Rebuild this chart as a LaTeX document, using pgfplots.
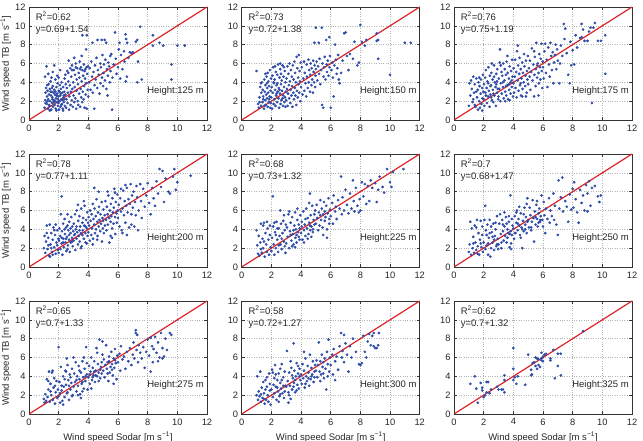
\documentclass[border=0pt]{standalone}
\usepackage{fontspec}
\setmainfont{Liberation Sans}
\usepackage{pgfplots}
\pgfplotsset{compat=1.18}
\definecolor{dotblue}{RGB}{46,76,168}
\definecolor{fitred}{RGB}{220,36,40}
\pgfplotsset{
  panel/.style={
    scale only axis, width=178pt, height=113pt, anchor=south west,
    xmin=0, xmax=12, ymin=0, ymax=12,
    xtick={0,2,...,12}, ytick={0,2,...,12},
    grid=major, major grid style={gray!60, dotted, line width=0.5pt},
    tick align=inside, major tick length=3pt,
    axis line style={black!80, line width=0.6pt},
    every tick/.style={black!80, line width=0.5pt},
    tick label style={font=\fontsize{9.3}{10}\selectfont, black!85},
    /pgf/number format/assume math mode=true,
    label style={font=\fontsize{9.5}{11}\selectfont, black!85},
    xticklabel style={yshift=-1pt},
    ylabel style={at={(axis description cs:-0.082,0.5)}, anchor=south},
  },
  pts/.style={only marks, mark=*, mark size=1.15pt, dotblue, mark options={draw=dotblue, fill=dotblue}},
}
\newcommand\tbl{Wind speed TB [m s\textsuperscript{−1}]}
\newcommand\sdl{Wind speed Sodar [m s\textsuperscript{−1}]}
% fit line y=x plus the three annotations of each panel
\newcommand\annot[3]{%
  \addplot[fitred, line width=1.2pt] coordinates {(0,0) (12,12)};
  \node[anchor=west, inner sep=0pt, font=\fontsize{9.5}{11}\selectfont, black!85] at (axis cs:0.45,11.05) {R\textsuperscript{2}=#1};
  \node[anchor=west, inner sep=0pt, font=\fontsize{9.5}{11}\selectfont, black!85] at (axis cs:0.45,9.5) {y=#2};
  \node[anchor=east, inner sep=0pt, font=\fontsize{9.5}{11}\selectfont, black!85] at (axis cs:11.8,3.1) {Height:#3 m};
}
\begin{document}
\begin{tikzpicture}
\useasboundingbox (0pt,0pt) rectangle (643pt,441pt);

% ---------- 125 m ----------
\begin{axis}[panel, at={(29pt,321pt)}, ylabel={\tbl}]
\addplot[pts] coordinates {
(1.05,1.3)(1.1,2.1)(1.12,2.9)(1.15,3.4)(1.2,1.7)(1.22,2.5)(1.25,3.1)(1.28,1.2)(1.3,2.2)(1.32,3.8)(1.35,2.7)(1.38,1.5)(1.4,3.3)(1.42,2.0)(1.45,4.1)(1.48,2.6)(1.5,1.1)(1.52,3.0)(1.55,1.8)(1.57,2.4)(1.6,3.6)(1.62,1.4)(1.65,2.9)(1.68,2.1)(1.7,3.2)(1.72,1.6)(1.75,2.7)(1.78,4.3)(1.8,1.2)(1.82,2.3)(1.85,3.5)(1.88,1.9)(1.9,2.8)(1.92,3.9)(1.95,1.5)(1.98,2.5)(2.0,3.1)(2.02,1.1)(2.05,2.0)(2.08,3.7)(2.1,2.6)(2.12,1.4)(2.15,3.3)(2.18,2.2)(2.2,4.0)(2.22,1.7)(2.25,2.9)(2.28,1.2)(2.3,3.5)(2.32,2.4)(2.35,1.9)(2.38,3.0)(2.4,4.4)(2.42,1.5)(2.45,2.7)(2.48,3.8)(1.08,4.6)(1.18,5.7)(1.3,4.9)(1.6,5.1)(1.7,5.8)(1.9,4.7)(2.1,5.3)(1.4,1.0)(1.85,1.0)(2.3,1.0)(1.55,3.4)(1.75,2.0)(1.95,2.2)(2.15,2.8)(2.35,2.6)(1.25,2.0)(1.45,3.0)(1.65,1.9)(1.85,2.6)(2.05,3.0)(2.25,2.1)(1.35,1.6)(1.58,2.2)(1.78,3.0)(1.98,1.8)(2.18,1.6)(2.38,2.2)(1.12,1.8)(1.52,4.5)(2.45,4.8)(2.0,4.5)(1.22,3.7)
(2.5,1.3)(2.52,2.2)(2.55,3.4)(2.58,5.2)(2.6,1.8)(2.62,2.9)(2.65,4.1)(2.68,6.3)(2.7,1.1)(2.72,2.5)(2.75,3.7)(2.78,5.5)(2.8,1.6)(2.82,3.0)(2.85,4.6)(2.88,2.1)(2.9,5.8)(2.92,3.3)(2.95,1.4)(2.98,4.0)(3.0,2.6)(3.02,5.3)(3.05,1.9)(3.08,3.5)(3.1,4.8)(3.12,2.3)(3.15,6.0)(3.18,1.2)(3.2,3.1)(3.22,4.3)(3.25,5.5)(3.28,2.0)(3.3,3.8)(3.32,1.6)(3.35,5.0)(3.38,2.8)(3.4,4.5)(3.42,6.2)(3.45,1.4)(3.48,3.3)(3.5,5.6)(3.52,2.4)(3.55,4.1)(3.58,1.9)(3.6,5.3)(3.62,3.0)(3.65,4.7)(3.68,2.2)(3.7,5.9)(3.72,3.6)(3.75,1.3)(3.78,4.4)(3.8,5.4)(3.82,2.7)(3.85,3.9)(3.88,5.6)(3.9,1.2)(3.92,4.9)(3.95,3.2)(3.98,5.7)(2.65,5.0)(2.9,5.3)(3.15,5.6)(3.45,5.4)(3.75,5.2)(3.05,6.6)(3.55,6.8)(3.85,7.5)(3.6,9.0)(3.9,9.0)
(4.0,2.5)(4.05,4.0)(4.1,5.5)(4.15,3.2)(4.2,6.2)(4.25,4.6)(4.28,8.2)(4.3,2.9)(4.35,5.1)(4.4,1.2)(4.42,3.7)(4.45,5.8)(4.5,4.3)(4.55,6.6)(4.6,3.4)(4.62,8.5)(4.65,5.3)(4.7,4.8)(4.75,2.8)(4.8,6.0)(4.82,3.9)(4.85,5.6)(4.9,8.5)(4.92,4.5)(4.95,6.9)(5.0,3.6)(5.02,5.0)(5.05,5.9)(5.1,8.5)(5.12,4.2)(5.15,6.4)(5.2,8.2)(5.22,3.3)(5.25,5.4)(5.3,2.6)(5.32,4.7)(5.35,6.1)(5.4,5.7)(5.45,4.0)(5.48,6.8)
(5.5,5.2)(5.55,7.0)(5.6,1.1)(5.62,4.5)(5.7,5.9)(5.8,9.3)(5.85,6.5)(5.9,4.9)(6.0,5.6)(6.05,7.5)(6.1,8.2)(6.15,4.4)(6.2,6.9)(6.3,5.4)(6.4,7.3)(6.45,6.2)(6.5,9.1)(6.52,4.1)(6.55,8.6)(6.6,4.6)(6.62,8.2)(6.7,6.6)(6.8,7.2)(6.9,7.1)(7.0,7.2)
(7.2,8.3)(7.3,8.5)(7.35,6.2)(7.3,4.0)(7.5,9.9)(7.6,4.3)(8.35,9.0)(8.35,7.9)(8.8,8.2)(9.05,7.9)(9.6,5.9)(9.6,4.3)(10.0,7.9)(10.5,7.9)
};
\annot{0.62}{0.69+1.54}{125}
\end{axis}

% ---------- 150 m ----------
\begin{axis}[panel, at={(241.7pt,321pt)}]
\addplot[pts] coordinates {
(1.0,5.2)(1.1,1.7)(1.15,1.3)(1.2,2.4)(1.25,3.5)(1.3,1.5)(1.32,2.9)(1.35,4.0)(1.4,1.9)(1.42,3.2)(1.45,2.5)(1.5,1.2)(1.52,4.3)(1.55,3.0)(1.58,2.1)(1.6,3.7)(1.62,1.6)(1.65,2.7)(1.68,4.6)(1.7,2.3)(1.72,3.4)(1.75,1.4)(1.78,2.9)(1.8,4.1)(1.82,1.9)(1.85,3.6)(1.88,2.5)(1.9,5.3)(1.92,1.3)(1.95,3.1)(1.98,4.4)(1.3,3.9)(1.6,4.9)(1.75,5.0)(1.45,2.2)(1.85,2.2)(1.95,1.8)(1.55,1.5)(1.2,1.9)(1.7,3.9)
(2.0,2.4)(2.02,3.5)(2.05,1.2)(2.08,4.7)(2.1,2.9)(2.12,5.6)(2.15,1.7)(2.18,3.9)(2.2,2.2)(2.22,4.3)(2.25,3.2)(2.28,1.5)(2.3,5.1)(2.32,2.6)(2.35,3.7)(2.38,1.9)(2.4,4.8)(2.42,3.0)(2.45,5.9)(2.48,2.3)(2.5,3.4)(2.52,1.3)(2.55,4.5)(2.58,2.8)(2.6,5.4)(2.62,1.7)(2.65,3.8)(2.68,2.1)(2.7,4.2)(2.72,3.1)(2.75,5.8)(2.78,1.5)(2.8,2.6)(2.82,4.6)(2.85,3.5)(2.88,1.9)(2.9,5.2)(2.92,2.4)(2.95,4.0)(2.98,3.0)(2.15,4.0)(2.35,2.8)(2.55,3.2)(2.75,2.3)(2.95,1.4)(2.4,3.9)(2.65,4.9)(2.85,5.6)(2.25,5.7)(2.6,6.0)
(3.0,2.1)(3.02,4.4)(3.05,3.3)(3.08,5.7)(3.1,1.5)(3.12,2.8)(3.15,4.9)(3.18,3.7)(3.2,2.3)(3.22,6.0)(3.25,4.1)(3.28,1.8)(3.3,3.2)(3.32,5.3)(3.35,2.6)(3.38,4.6)(3.4,3.6)(3.42,1.4)(3.45,5.8)(3.48,2.9)(3.5,4.3)(3.52,2.2)(3.55,6.2)(3.58,3.4)(3.6,5.0)(3.62,2.6)(3.65,4.0)(3.68,1.6)(3.7,6.7)(3.72,3.1)(3.75,5.5)(3.78,2.4)(3.8,4.5)(3.82,3.8)(3.85,6.9)(3.88,2.9)(3.9,5.2)(3.92,4.1)(3.95,2.0)(3.98,6.1)
(4.0,3.5)(4.05,5.6)(4.1,2.7)(4.15,4.4)(4.2,6.2)(4.22,3.1)(4.25,5.0)(4.3,3.9)(4.35,2.5)(4.38,5.9)(4.4,4.6)(4.45,3.4)(4.5,6.4)(4.52,4.0)(4.55,5.3)(4.6,3.0)(4.62,4.8)(4.65,6.0)(4.7,3.7)(4.72,5.5)(4.75,4.3)(4.8,2.9)(4.82,6.3)(4.85,5.1)(4.88,4.0)(4.9,8.2)(4.92,5.8)(4.95,3.5)(4.98,4.7)(5.0,9.8)
(5.0,5.4)(5.05,6.2)(5.1,4.2)(5.15,5.7)(5.2,8.2)(5.22,4.9)(5.25,6.5)(5.3,3.8)(5.35,5.3)(5.4,9.8)(5.42,1.6)(5.45,6.0)(5.5,1.3)(5.52,4.6)(5.55,5.6)(5.6,6.7)(5.65,4.3)(5.7,8.5)(5.72,5.9)(5.75,5.1)(5.8,6.3)(5.85,4.7)(5.9,8.8)(5.92,5.6)(5.95,6.8)(6.0,1.3)(6.05,5.3)(6.1,6.1)(6.15,4.5)(6.2,2.5)(6.25,5.8)(6.3,8.0)(6.35,6.4)(6.4,4.9)(6.45,5.5)(6.5,6.9)(6.55,4.3)(6.6,3.9)
(6.7,5.0)(6.8,6.3)(6.9,9.2)(7.0,9.3)(7.1,6.8)(7.2,5.3)(7.3,7.0)(7.5,6.5)(7.6,8.3)(7.8,5.8)(7.9,6.1)(8.0,10.1)(8.1,8.3)(8.3,7.9)(8.4,8.5)(9.1,9.2)(9.1,8.4)(9.2,8.5)(9.2,6.5)(10.0,4.8)(11.0,8.2)(11.4,8.2)
};
\annot{0.73}{0.72+1.38}{150}
\end{axis}

% ---------- 175 m ----------
\begin{axis}[panel, at={(454pt,321pt)}]
\addplot[pts] coordinates {
(1.0,1.5)(1.05,3.9)(1.1,2.6)(1.15,4.2)(1.2,3.3)(1.25,1.9)(1.3,4.6)(1.35,2.9)(1.4,3.8)(1.45,1.4)(1.5,4.4)(1.55,2.4)(1.6,3.2)(1.62,1.1)(1.65,4.0)(1.7,2.0)(1.72,3.6)(1.75,1.3)(1.8,2.8)(1.82,4.3)(1.85,1.7)(1.9,3.4)(1.92,2.3)(1.95,4.8)(1.98,3.0)(1.3,2.2)(1.5,3.0)(1.7,4.5)(1.9,1.0)(1.4,1.6)
(2.0,2.2)(2.02,3.8)(2.05,1.5)(2.1,4.5)(2.12,2.9)(2.15,5.3)(2.2,3.4)(2.22,1.8)(2.25,4.1)(2.3,2.5)(2.32,5.6)(2.35,3.1)(2.4,1.4)(2.42,4.7)(2.45,2.7)(2.5,3.7)(2.52,5.0)(2.55,2.1)(2.6,4.3)(2.62,3.2)(2.65,1.9)(2.7,5.8)(2.72,2.6)(2.75,4.0)(2.8,3.5)(2.82,1.5)(2.85,4.9)(2.9,2.9)(2.92,5.4)(2.95,3.3)(2.98,2.2)(2.3,3.9)(2.5,2.4)(2.7,4.6)(2.9,4.1)(2.15,2.6)(2.45,3.6)(2.65,2.8)(2.85,3.8)(2.55,6.0)
(3.0,2.5)(3.02,4.4)(3.05,3.3)(3.08,6.1)(3.1,7.5)(3.12,2.0)(3.15,3.9)(3.2,5.1)(3.22,2.8)(3.25,4.7)(3.3,3.5)(3.32,6.0)(3.35,2.3)(3.4,4.2)(3.42,5.4)(3.45,3.0)(3.5,4.8)(3.52,2.6)(3.55,6.2)(3.6,3.7)(3.62,5.0)(3.65,2.2)(3.7,4.4)(3.72,3.2)(3.75,5.7)(3.8,4.0)(3.82,2.8)(3.85,5.2)(3.9,3.5)(3.92,6.4)(3.95,4.6)(3.98,2.5)(3.3,4.0)(3.5,3.6)(3.7,3.8)(3.9,4.2)(3.15,5.8)(3.45,2.0)(3.75,2.1)(3.6,6.8)
(4.0,3.9)(4.02,5.5)(4.05,2.9)(4.1,4.6)(4.12,6.4)(4.15,3.4)(4.2,5.1)(4.22,2.4)(4.25,7.3)(4.3,4.2)(4.32,5.8)(4.35,3.1)(4.4,4.9)(4.42,6.6)(4.45,3.7)(4.5,5.4)(4.52,2.6)(4.55,4.4)(4.6,6.1)(4.62,3.3)(4.65,5.0)(4.7,4.0)(4.72,7.0)(4.75,5.7)(4.8,3.6)(4.82,4.7)(4.85,6.3)(4.9,2.9)(4.92,5.2)(4.95,4.3)(4.98,6.8)(4.3,7.9)(4.6,2.5)(4.85,2.5)(4.5,3.9)
(5.0,3.8)(5.05,5.5)(5.1,4.6)(5.12,6.3)(5.15,3.2)(5.2,5.1)(5.25,7.6)(5.3,4.2)(5.35,5.9)(5.4,2.5)(5.42,4.8)(5.45,6.7)(5.5,3.6)(5.52,5.4)(5.55,8.2)(5.6,4.5)(5.65,6.0)(5.7,5.0)(5.72,3.9)(5.75,7.0)(5.8,5.6)(5.82,4.3)(5.85,6.5)(5.9,8.1)(5.92,5.2)(5.95,3.4)(5.98,6.2)(5.4,7.3)(5.7,2.6)(5.6,5.8)
(6.0,5.6)(6.05,4.4)(6.1,7.3)(6.15,8.1)(6.2,5.0)(6.25,6.4)(6.3,3.5)(6.35,7.7)(6.4,5.9)(6.45,4.6)(6.5,8.2)(6.55,6.8)(6.6,5.3)(6.65,7.2)(6.7,3.9)(6.75,6.1)(6.8,6.9)(6.85,8.0)(6.9,5.4)(6.95,7.5)
(7.0,6.3)(7.1,3.9)(7.15,6.0)(7.2,7.9)(7.3,6.8)(7.4,10.2)(7.45,8.6)(7.5,9.7)(7.6,7.1)(7.7,4.8)(7.8,3.9)(7.85,8.3)(7.9,5.8)(8.0,7.4)(8.1,5.9)(8.2,9.0)(8.3,7.7)(8.5,8.7)(8.6,10.2)(8.6,8.8)(8.7,9.6)(8.8,8.4)(9.0,8.4)(9.1,9.4)(9.2,9.8)(9.3,1.8)(9.4,9.8)(9.5,10.3)(9.7,8.4)(9.9,8.4)(10.2,9.0)(10.2,4.9)
};
\annot{0.76}{0.75+1.19}{175}
\end{axis}

% ---------- 200 m ----------
\begin{axis}[panel, at={(29pt,174pt)}, ylabel={\tbl}]
\addplot[pts] coordinates {
(1.0,2.0)(1.05,3.3)(1.1,1.5)(1.15,2.7)(1.2,4.4)(1.25,1.9)(1.3,3.1)(1.35,1.2)(1.4,4.5)(1.42,1.1)(1.45,2.4)(1.5,3.6)(1.55,1.6)(1.6,2.9)(1.65,4.2)(1.7,2.1)(1.75,3.4)(1.8,1.4)(1.85,2.6)(1.9,3.9)(1.95,1.8)(1.98,3.0)(1.3,2.3)(1.5,2.0)(1.7,3.9)(1.9,2.3)(1.2,3.6)(1.6,1.3)(1.8,4.5)(2.2,7.5)
(2.0,1.5)(2.02,2.8)(2.05,4.1)(2.1,3.3)(2.12,1.9)(2.15,5.6)(2.2,2.5)(2.22,3.8)(2.25,1.3)(2.3,4.6)(2.32,3.0)(2.35,2.1)(2.4,5.1)(2.42,3.5)(2.45,2.6)(2.5,4.2)(2.52,1.7)(2.55,3.2)(2.6,5.6)(2.62,2.3)(2.65,3.9)(2.7,2.9)(2.72,4.8)(2.75,1.6)(2.8,3.6)(2.82,2.6)(2.85,5.3)(2.9,3.1)(2.92,4.3)(2.95,2.2)(2.98,3.8)(2.3,2.6)(2.5,3.0)(2.7,3.4)(2.9,2.7)(2.4,4.0)(2.6,4.4)(2.8,4.1)(2.2,3.1)(2.6,1.9)
(3.0,2.8)(3.02,4.6)(3.05,3.4)(3.1,5.6)(3.12,1.8)(3.15,4.0)(3.2,3.0)(3.22,6.0)(3.25,3.7)(3.3,2.4)(3.32,4.9)(3.35,3.3)(3.4,5.4)(3.42,2.7)(3.45,4.3)(3.5,3.6)(3.52,6.2)(3.55,2.2)(3.6,4.7)(3.62,3.9)(3.65,5.2)(3.7,3.0)(3.72,4.4)(3.75,6.5)(3.8,3.6)(3.82,2.6)(3.85,5.0)(3.9,4.1)(3.92,5.8)(3.95,3.3)(3.98,4.7)(3.2,4.3)(3.4,3.9)(3.6,3.4)(3.8,4.3)(3.3,6.6)(3.7,7.0)(3.5,2.0)(3.9,2.5)(3.1,3.5)
(4.0,3.7)(4.02,5.3)(4.05,4.4)(4.1,2.8)(4.12,6.0)(4.15,4.9)(4.2,3.4)(4.22,5.6)(4.25,4.1)(4.3,6.7)(4.32,3.0)(4.35,5.1)(4.4,4.5)(4.42,6.2)(4.45,3.6)(4.5,5.4)(4.52,4.0)(4.55,7.2)(4.6,4.8)(4.62,3.3)(4.65,5.8)(4.7,4.3)(4.72,6.4)(4.75,5.0)(4.8,3.8)(4.82,5.6)(4.85,4.6)(4.9,6.9)(4.92,2.7)(4.95,5.2)(4.98,4.1)(4.4,8.4)(4.7,8.0)(4.3,2.4)(4.6,2.9)
(5.0,4.9)(5.02,6.1)(5.05,3.6)(5.1,5.5)(5.12,4.4)(5.15,7.0)(5.2,5.0)(5.22,3.9)(5.25,6.4)(5.3,5.6)(5.32,4.5)(5.35,7.6)(5.4,5.2)(5.42,2.6)(5.45,6.0)(5.5,4.8)(5.52,6.7)(5.55,5.4)(5.6,4.1)(5.62,7.3)(5.65,5.8)(5.7,4.6)(5.72,6.3)(5.75,8.3)(5.8,5.3)(5.82,3.5)(5.85,6.9)(5.9,5.7)(5.92,4.7)(5.95,7.7)(5.98,6.0)(5.3,8.0)(5.6,3.1)(5.8,7.9)(5.5,3.3)
(6.0,5.2)(6.05,6.6)(6.1,4.3)(6.15,7.3)(6.2,5.9)(6.25,3.9)(6.3,6.2)(6.35,8.1)(6.4,5.5)(6.45,7.0)(6.5,4.7)(6.55,6.5)(6.6,8.4)(6.65,5.8)(6.7,7.2)(6.75,4.2)(6.8,6.7)(6.85,8.8)(6.9,5.6)(6.95,7.6)(6.3,3.6)(6.6,3.4)(6.9,4.5)(6.2,8.3)(6.5,8.7)
(7.0,6.3)(7.05,8.0)(7.1,4.3)(7.15,6.9)(7.2,5.5)(7.25,8.6)(7.3,7.4)(7.35,3.9)(7.4,6.0)(7.5,8.8)(7.55,7.0)(7.6,5.2)(7.7,8.3)(7.8,6.4)(7.9,7.6)(8.0,8.9)(8.1,6.8)(8.2,5.6)(8.3,8.4)(8.4,7.3)(8.5,6.5)(8.6,9.1)(8.7,7.8)(8.8,10.4)(8.9,8.5)(9.0,10.2)(9.1,6.9)(9.2,9.4)(9.4,8.0)(9.5,7.8)(9.7,9.6)(9.8,10.4)(9.9,8.2)(10.0,9.0)(10.9,9.7)
};
\annot{0.78}{0.77+1.11}{200}
\end{axis}

% ---------- 225 m ----------
\begin{axis}[panel, at={(241.7pt,174pt)}]
\addplot[pts] coordinates {
(1.0,3.9)(1.05,2.3)(1.1,1.4)(1.15,3.3)(1.2,1.2)(1.25,2.6)(1.3,4.6)(1.35,1.5)(1.4,3.0)(1.45,2.0)(1.5,4.7)(1.55,1.1)(1.6,3.6)(1.65,2.4)(1.7,1.6)(1.75,4.1)(1.8,2.9)(1.85,1.3)(1.9,3.4)(1.95,2.1)(1.3,1.9)(1.5,2.7)(1.7,4.8)(1.9,4.4)(1.45,4.4)
(2.0,1.7)(2.05,3.1)(2.1,7.5)(2.12,4.3)(2.15,2.4)(2.2,1.3)(2.25,3.7)(2.3,2.0)(2.35,4.8)(2.4,2.9)(2.45,1.6)(2.5,4.1)(2.55,3.3)(2.6,6.0)(2.62,2.4)(2.65,4.6)(2.7,1.9)(2.75,3.6)(2.8,4.9)(2.85,2.7)(2.9,3.9)(2.95,1.5)(2.98,4.5)(2.3,3.4)(2.5,2.3)(2.7,3.0)(2.9,2.2)(2.4,4.1)(2.85,5.5)(2.2,4.7)
(3.0,2.5)(3.05,4.2)(3.1,3.2)(3.15,5.6)(3.2,2.0)(3.25,3.8)(3.3,4.7)(3.35,2.8)(3.4,5.3)(3.45,3.5)(3.5,2.4)(3.55,4.4)(3.6,5.8)(3.62,3.1)(3.65,4.0)(3.7,2.6)(3.75,5.0)(3.8,3.7)(3.85,4.5)(3.9,2.9)(3.95,5.5)(3.3,3.4)(3.5,3.9)(3.7,3.4)(3.9,4.1)(3.2,5.9)(3.75,6.2)(3.85,3.2)(3.4,2.2)(3.6,2.1)
(4.0,3.6)(4.05,4.8)(4.1,2.9)(4.15,5.9)(4.2,3.9)(4.25,4.5)(4.3,3.3)(4.35,6.2)(4.4,4.1)(4.45,5.2)(4.5,3.5)(4.55,4.7)(4.6,7.8)(4.62,3.9)(4.65,5.5)(4.7,4.3)(4.75,6.5)(4.8,3.7)(4.85,5.0)(4.9,4.5)(4.95,6.0)(4.2,2.6)(4.45,3.0)(4.7,3.2)(4.9,5.6)(4.3,5.1)(4.6,4.4)(4.8,4.0)(4.55,6.8)(4.05,4.3)
(5.0,4.6)(5.05,6.6)(5.1,5.2)(5.15,3.9)(5.2,5.8)(5.25,4.4)(5.3,7.1)(5.35,5.0)(5.4,6.2)(5.45,4.2)(5.5,5.6)(5.55,6.9)(5.6,4.9)(5.65,5.3)(5.7,6.5)(5.75,4.0)(5.8,5.7)(5.85,7.3)(5.9,5.1)(5.95,6.1)(5.5,3.4)(5.75,3.1)(5.3,5.5)(5.6,5.9)(5.9,4.6)
(6.0,5.4)(6.1,6.8)(6.15,4.6)(6.2,7.6)(6.3,5.9)(6.35,6.4)(6.4,5.1)(6.5,7.1)(6.6,6.2)(6.7,9.6)(6.75,5.6)(6.8,7.4)(6.9,6.0)(7.0,8.2)(7.1,6.6)(7.2,5.7)(7.3,7.8)(7.4,6.2)(7.5,9.2)(7.55,7.0)(7.6,5.9)(7.7,8.4)(7.8,6.5)(7.9,5.8)(7.95,7.2)
(8.0,6.0)(8.1,9.0)(8.2,7.5)(8.3,8.8)(8.4,6.7)(8.5,8.6)(8.6,7.0)(8.7,9.2)(8.8,8.4)(9.0,8.9)(9.1,6.9)(9.2,8.2)(9.3,9.6)(9.5,8.5)(9.6,7.9)(9.8,10.4)(10.0,9.0)(10.1,8.5)(10.2,10.1)(10.9,10.4)
};
\annot{0.68}{0.73+1.32}{225}
\end{axis}

% ---------- 250 m ----------
\begin{axis}[panel, at={(454pt,174pt)}]
\addplot[pts] coordinates {
(1.0,1.6)(1.05,2.4)(1.1,4.8)(1.15,1.3)(1.2,4.1)(1.25,2.0)(1.3,3.2)(1.35,1.5)(1.4,4.4)(1.45,2.6)(1.5,1.8)(1.55,5.0)(1.6,2.2)(1.65,3.6)(1.7,1.3)(1.75,2.9)(1.8,4.9)(1.85,2.1)(1.9,3.4)(1.95,1.6)(1.3,2.5)(1.6,1.4)(1.8,2.5)(1.5,4.2)(1.9,4.3)
(2.0,2.6)(2.05,5.0)(2.1,6.5)(2.12,1.9)(2.15,3.9)(2.2,2.3)(2.25,4.5)(2.3,1.3)(2.35,3.1)(2.4,5.0)(2.45,1.1)(2.5,2.0)(2.55,3.7)(2.6,2.6)(2.65,4.6)(2.7,1.8)(2.75,3.3)(2.8,4.0)(2.85,2.2)(2.9,5.4)(2.95,3.0)(2.98,1.9)(2.3,2.5)(2.5,4.3)(2.7,2.9)(2.9,2.4)(2.4,3.6)(2.8,4.7)(2.2,3.4)(2.6,3.2)
(3.0,2.4)(3.05,4.6)(3.1,5.6)(3.15,3.5)(3.2,2.0)(3.25,5.0)(3.3,3.8)(3.35,2.8)(3.4,4.3)(3.45,3.3)(3.5,5.3)(3.55,2.6)(3.6,4.0)(3.65,3.6)(3.7,4.8)(3.75,2.1)(3.8,7.6)(3.82,3.8)(3.85,2.5)(3.9,5.1)(3.95,4.4)(3.3,4.5)(3.6,3.1)(3.9,3.4)(3.2,2.6)(3.7,5.4)(3.4,5.8)(3.85,1.9)(3.55,4.6)(3.75,3.5)
(4.0,4.1)(4.05,3.0)(4.1,5.4)(4.15,3.6)(4.2,4.7)(4.25,6.0)(4.3,3.9)(4.35,5.1)(4.4,4.4)(4.45,3.4)(4.5,5.7)(4.55,4.2)(4.6,2.0)(4.65,4.9)(4.7,3.8)(4.75,6.3)(4.8,4.5)(4.85,5.3)(4.9,3.6)(4.95,4.8)(4.1,3.6)(4.3,4.6)(4.5,3.1)(4.7,5.6)(4.9,6.7)(4.2,5.8)(4.6,4.0)(4.8,4.0)(4.4,6.4)(4.95,7.3)
(5.0,5.0)(5.05,4.2)(5.1,6.3)(5.15,5.5)(5.2,3.9)(5.25,4.8)(5.3,7.1)(5.35,5.2)(5.4,2.7)(5.45,5.9)(5.5,4.5)(5.55,6.6)(5.6,5.1)(5.65,4.3)(5.7,5.7)(5.75,6.2)(5.8,4.8)(5.85,5.4)(5.9,7.6)(5.95,5.0)(5.2,4.2)(5.5,5.3)(5.8,5.0)(5.6,7.0)(5.7,4.7)
(6.0,4.3)(6.05,6.9)(6.1,5.5)(6.15,3.6)(6.2,6.2)(6.3,5.1)(6.4,7.3)(6.45,4.7)(6.5,6.0)(6.6,5.4)(6.7,7.8)(6.75,5.0)(6.8,6.5)(6.9,4.5)(7.0,3.4)(7.05,9.2)(7.1,6.2)(7.2,7.4)(7.3,9.5)(7.35,5.9)(7.5,7.0)(7.6,6.4)(7.7,4.8)(7.8,7.7)(7.9,6.1)
(8.0,8.3)(8.05,6.3)(8.1,9.0)(8.2,7.2)(8.3,5.8)(8.4,4.7)(8.5,8.2)(8.6,6.8)(8.7,7.6)(8.8,6.0)(8.9,8.7)(9.0,7.8)(9.1,9.1)(9.2,6.5)(9.3,8.4)(9.5,8.6)(9.7,7.5)(9.8,6.9)(9.9,7.6)(9.0,5.9)
};
\annot{0.7}{0.68+1.47}{250}
\end{axis}

% ---------- 275 m ----------
\begin{axis}[panel, at={(29pt,27pt)}, ylabel={\tbl}, xlabel={\sdl}]
\addplot[pts] coordinates {
(1.0,1.6)(1.05,1.2)(1.1,2.1)(1.15,1.4)(1.2,3.7)(1.25,1.8)(1.3,2.6)(1.35,4.5)(1.4,1.3)(1.45,3.2)(1.5,2.0)(1.55,4.4)(1.6,1.5)(1.65,2.8)(1.7,3.8)(1.75,1.1)(1.8,2.3)(1.85,3.5)(1.9,1.7)(1.95,2.6)(1.3,3.5)(1.6,4.6)(1.75,3.0)(1.45,2.4)(2.0,7.1)
(2.0,1.9)(2.05,3.4)(2.1,1.2)(2.15,5.0)(2.2,2.5)(2.25,1.4)(2.3,4.0)(2.35,2.9)(2.4,1.8)(2.45,4.6)(2.5,3.1)(2.55,2.2)(2.6,5.2)(2.65,3.6)(2.7,1.5)(2.75,4.2)(2.8,2.6)(2.85,3.3)(2.9,4.8)(2.95,2.0)(2.2,3.0)(2.4,3.7)(2.6,2.3)(2.8,3.9)(2.1,2.2)(2.5,4.5)(2.7,3.0)(2.9,1.9)(2.3,1.0)(2.55,5.9)
(3.0,2.9)(3.05,4.3)(3.1,3.4)(3.15,5.5)(3.2,2.4)(3.25,4.0)(3.3,3.0)(3.35,5.1)(3.4,3.7)(3.45,2.1)(3.5,4.4)(3.55,3.2)(3.6,5.6)(3.65,3.9)(3.7,2.7)(3.75,4.8)(3.8,3.5)(3.85,7.1)(3.9,4.2)(3.95,2.6)(3.2,3.6)(3.4,4.6)(3.6,3.4)(3.8,4.0)(3.3,2.0)(3.7,6.0)(3.5,1.7)(3.9,5.4)(3.0,6.0)(3.6,2.4)
(4.0,3.9)(4.05,5.1)(4.1,3.2)(4.15,4.5)(4.2,6.0)(4.25,3.6)(4.3,4.9)(4.35,4.1)(4.4,5.6)(4.45,3.4)(4.5,4.6)(4.55,7.0)(4.6,4.0)(4.65,5.3)(4.7,4.4)(4.75,7.9)(4.8,3.8)(4.85,5.0)(4.9,4.3)(4.95,6.3)(4.1,4.2)(4.3,3.9)(4.5,4.1)(4.7,3.5)(4.9,5.5)(4.2,2.7)(4.6,6.5)(4.8,4.7)(4.4,4.5)(4.95,7.7)
(5.0,4.6)(5.05,5.8)(5.1,3.9)(5.15,5.2)(5.2,7.3)(5.25,4.8)(5.3,5.5)(5.35,3.5)(5.4,6.1)(5.45,4.4)(5.5,5.0)(5.55,6.6)(5.6,5.3)(5.65,4.1)(5.7,5.9)(5.75,4.9)(5.8,6.9)(5.85,5.4)(5.9,3.7)(5.95,6.2)(5.3,4.3)(5.6,4.7)(5.8,5.7)(5.4,5.6)(5.7,3.2)
(6.0,5.5)(6.1,6.4)(6.15,4.6)(6.2,7.2)(6.3,5.8)(6.4,6.1)(6.5,4.8)(6.6,6.6)(6.7,5.6)(6.8,7.0)(6.9,5.2)(7.0,6.3)(7.05,7.6)(7.1,5.9)(7.2,8.6)(7.25,6.8)(7.3,8.4)(7.35,5.5)(7.4,7.3)(7.5,6.5)(7.6,5.9)(7.7,7.1)(7.8,4.9)(7.9,6.6)(7.2,8.9)
(8.0,7.9)(8.1,6.2)(8.2,8.1)(8.3,7.2)(8.35,5.5)(8.4,6.9)(8.5,8.2)(8.6,6.5)(8.7,7.6)(8.8,6.0)(8.9,8.6)(9.0,7.0)(9.1,6.1)(9.2,8.0)(9.3,6.8)(9.5,8.6)(9.6,8.4)(9.0,5.9)(8.2,4.5)(8.7,5.6)
};
\annot{0.65}{0.7+1.33}{275}
\end{axis}

% ---------- 300 m ----------
\begin{axis}[panel, at={(241.7pt,27pt)}, xlabel={\sdl}]
\addplot[pts] coordinates {
(1.0,2.0)(1.05,4.0)(1.1,1.5)(1.15,2.4)(1.2,1.9)(1.25,4.5)(1.3,1.3)(1.35,2.8)(1.4,1.7)(1.45,3.4)(1.5,2.2)(1.55,1.1)(1.6,2.6)(1.65,1.5)(1.7,3.9)(1.75,2.0)(1.8,1.3)(1.85,4.3)(1.9,2.5)(1.95,1.0)(1.3,2.1)(1.5,1.6)(1.7,2.9)(1.9,3.2)(1.6,3.6)
(2.0,2.6)(2.05,4.7)(2.1,1.8)(2.15,3.1)(2.2,2.2)(2.25,5.2)(2.3,2.9)(2.35,1.5)(2.4,3.6)(2.45,2.4)(2.5,4.3)(2.55,1.9)(2.6,3.3)(2.65,2.7)(2.7,5.3)(2.75,2.2)(2.8,3.9)(2.85,1.7)(2.9,4.5)(2.95,3.0)(2.2,3.8)(2.4,2.8)(2.6,2.1)(2.8,3.0)(2.3,4.2)(2.7,3.6)(2.9,2.4)(2.5,1.3)(2.1,4.4)(2.6,4.8)
(3.0,2.9)(3.05,6.7)(3.1,3.5)(3.15,2.3)(3.2,4.4)(3.25,3.0)(3.3,1.6)(3.35,4.9)(3.4,2.6)(3.45,3.8)(3.5,7.5)(3.52,3.3)(3.55,4.6)(3.6,2.3)(3.65,4.0)(3.7,5.4)(3.75,3.1)(3.8,4.3)(3.85,2.7)(3.9,4.8)(3.95,3.6)(3.2,2.0)(3.4,4.1)(3.6,3.6)(3.8,5.1)(3.3,5.6)(3.7,2.5)(3.9,4.0)(3.5,2.9)(3.15,1.2)
(4.0,4.2)(4.05,3.2)(4.1,5.3)(4.15,3.8)(4.2,4.6)(4.25,2.8)(4.3,5.9)(4.35,4.0)(4.4,3.5)(4.45,5.1)(4.5,4.4)(4.55,3.0)(4.6,6.3)(4.65,3.7)(4.7,4.9)(4.75,4.2)(4.8,5.6)(4.85,3.4)(4.9,4.5)(4.95,5.2)(4.3,3.2)(4.5,3.8)(4.7,4.0)(4.9,3.9)(4.2,6.6)
(5.0,4.6)(5.05,5.7)(5.1,3.9)(5.15,5.2)(5.2,7.6)(5.25,4.5)(5.3,5.6)(5.35,4.2)(5.4,6.3)(5.45,5.0)(5.5,5.5)(5.55,3.8)(5.6,5.9)(5.65,4.8)(5.7,2.6)(5.75,6.6)(5.8,5.3)(5.85,7.9)(5.9,4.5)(5.95,6.0)(5.3,3.5)(5.5,4.3)(5.8,4.0)
(6.0,5.2)(6.1,6.3)(6.15,4.2)(6.2,6.9)(6.3,5.6)(6.4,6.1)(6.5,4.7)(6.6,7.2)(6.7,8.6)(6.75,6.0)(6.8,6.7)(6.9,5.5)(7.0,7.5)(7.1,6.3)(7.2,4.5)(7.3,7.2)(7.4,6.0)(7.5,8.0)(7.7,6.6)(7.9,5.3)(6.3,3.6)(6.9,8.4)
(8.0,5.2)(8.1,5.4)(8.2,8.3)(8.3,6.6)(8.5,7.7)(8.6,8.5)(8.7,7.3)(8.8,8.3)(8.9,8.6)(8.9,7.2)(9.0,7.0)(9.1,7.0)(9.2,7.3)(9.25,8.6)(8.4,6.0)
};
\annot{0.58}{0.72+1.27}{300}
\end{axis}

% ---------- 325 m ----------
\begin{axis}[panel, at={(454pt,27pt)}, xlabel={\sdl}]
\addplot[pts] coordinates {
(1.1,3.2)(1.4,4.0)(1.5,2.7)(1.6,1.2)(1.8,3.3)(1.9,2.8)(1.9,2.5)(2.0,1.8)(2.1,2.0)(2.2,3.4)(2.3,3.4)(2.2,2.3)(2.4,2.2)(2.5,2.6)(2.9,2.9)(3.0,2.6)(3.2,2.6)(3.4,2.3)(3.4,3.6)(3.4,4.1)(3.3,2.6)
(4.0,7.0)(4.0,4.8)(4.0,3.6)(4.2,3.2)(4.1,3.9)(4.3,4.0)(4.8,3.1)(5.0,6.3)(5.2,4.7)(5.2,4.1)(5.25,4.2)(5.4,5.5)(5.5,6.0)(5.6,5.9)(5.6,4.8)(5.7,5.8)(5.7,5.2)(5.8,5.0)(5.9,6.5)(5.9,5.9)(6.0,6.1)(6.1,6.3)(6.2,6.4)(6.0,5.6)(6.5,5.7)(6.5,5.9)(6.7,6.8)(6.8,3.8)(7.0,6.4)(7.0,5.1)(7.2,6.4)(7.2,4.1)(8.7,8.8)(5.3,5.4)(5.5,5.1)(5.9,5.7)
};
\annot{0.62}{0.7+1.32}{325}
\end{axis}
\end{tikzpicture}
\end{document}
